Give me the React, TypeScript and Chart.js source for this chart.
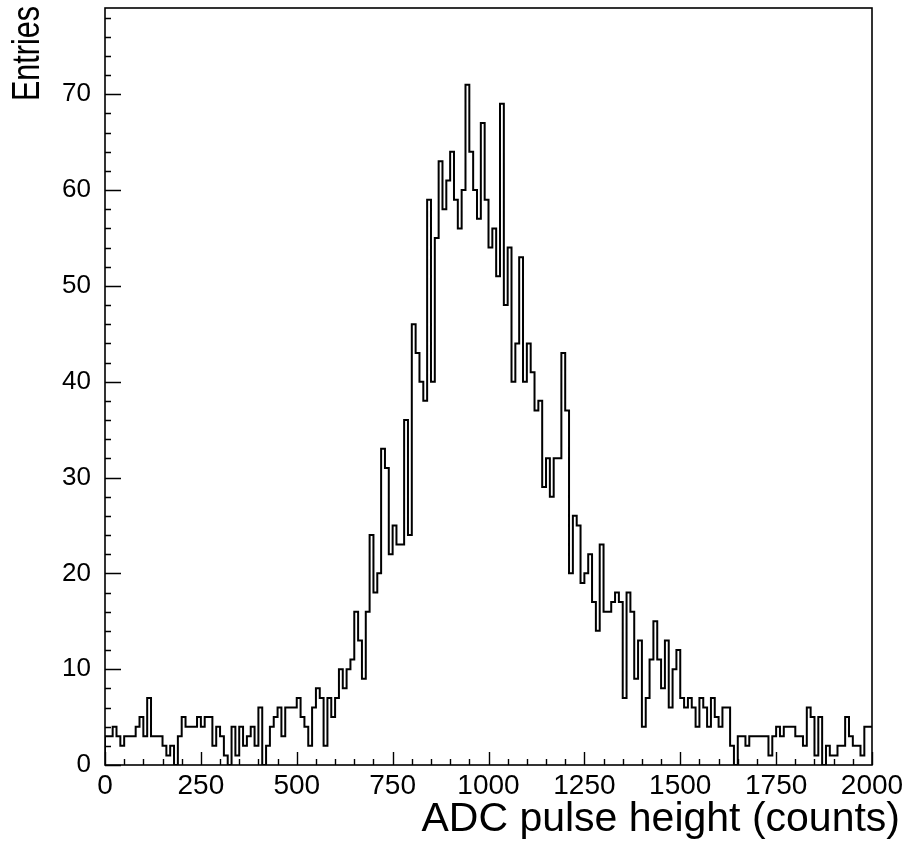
import React, { useEffect, useRef } from 'react';
import { Chart, registerables } from 'chart.js';

Chart.register(...registerables);

// ---- data ----
const X_MIN = 0;
const X_MAX = 2000;
const BIN_WIDTH = 10;
const Y_MIN = 0;
const Y_MAX = 79;
const X_TICKS = [0, 250, 500, 750, 1000, 1250, 1500, 1750, 2000];
const Y_TICKS = [0, 10, 20, 30, 40, 50, 60, 70];
const X_MINOR_STEP = 50;
const Y_MINOR_STEP = 2;
const X_TITLE = 'ADC pulse height (counts)';
const Y_TITLE = 'Entries';

// entries per 10-count bin, 0 .. 2000
const COUNTS_0_49 = [
  1, 3, 3, 4, 3, 2, 3, 3, 3, 4,
  5, 3, 7, 3, 3, 3, 2, 1, 2, 0,
  3, 5, 4, 4, 4, 5, 4, 5, 5, 2,
  4, 3, 1, 0, 4, 1, 4, 2, 3, 4,
  2, 6, 0, 2, 4, 5, 6, 3, 6, 6,
];
const COUNTS_50_99 = [
  6, 7, 5, 4, 2, 6, 8, 7, 2, 7,
  5, 7, 10, 8, 10, 11, 16, 13, 9, 16,
  24, 18, 20, 33, 31, 22, 25, 23, 23, 36,
  24, 46, 43, 40, 38, 59, 40, 55, 63, 58,
  61, 64, 59, 56, 60, 71, 64, 60, 57, 67,
];
const COUNTS_100_149 = [
  59, 54, 56, 51, 69, 48, 54, 40, 44, 53,
  40, 44, 41, 37, 38, 29, 32, 28, 32, 32,
  43, 37, 20, 26, 25, 19, 20, 22, 17, 14,
  23, 16, 16, 17, 18, 17, 7, 18, 16, 9,
  13, 4, 7, 11, 15, 11, 8, 13, 6, 10,
];
const COUNTS_150_199 = [
  12, 7, 6, 7, 6, 4, 7, 6, 4, 7,
  5, 4, 6, 6, 2, 0, 3, 3, 2, 3,
  3, 3, 3, 3, 1, 3, 4, 3, 4, 4,
  4, 3, 3, 2, 6, 5, 1, 5, 0, 2,
  1, 1, 2, 2, 5, 3, 2, 2, 1, 4,
];
const COUNTS = [...COUNTS_0_49, ...COUNTS_50_99, ...COUNTS_100_149, ...COUNTS_150_199];

const FONT_FAMILY = '"Liberation Sans", Arial, sans-serif';

export default function App() {
  const canvasRef = useRef<HTMLCanvasElement | null>(null);

  useEffect(() => {
    document.body.style.margin = '0';
    const canvas = canvasRef.current;
    if (!canvas) return;

    const points = COUNTS.map((c, i) => ({ x: X_MIN + i * BIN_WIDTH, y: c }));
    points.push({ x: X_MAX, y: COUNTS[COUNTS.length - 1] });

    const framePlugin = {
      id: 'paw-frame',
      afterDraw(chart: any) {
        const { ctx, chartArea: a } = chart;
        const xs = chart.scales.x;
        const ys = chart.scales.y;
        ctx.save();
        ctx.strokeStyle = '#000';
        ctx.lineWidth = 1.6;
        ctx.strokeRect(a.left, a.top, a.right - a.left, a.bottom - a.top);
        ctx.beginPath();
        for (let v = X_MIN; v <= X_MAX; v += X_MINOR_STEP) {
          const px = Math.round(xs.getPixelForValue(v)) + 0.5;
          const len = X_TICKS.includes(v) ? 13 : 6;
          ctx.moveTo(px, a.bottom);
          ctx.lineTo(px, a.bottom - len);
        }
        for (let v = Y_MIN; v <= Y_MAX; v += Y_MINOR_STEP) {
          const py = Math.round(ys.getPixelForValue(v)) + 0.5;
          const len = Y_TICKS.includes(v) ? 16 : 6;
          ctx.moveTo(a.left, py);
          ctx.lineTo(a.left + len, py);
        }
        ctx.lineWidth = 1.4;
        ctx.stroke();

        // axis titles
        ctx.fillStyle = '#000';
        ctx.font = `41px ${FONT_FAMILY}`;
        ctx.textBaseline = 'alphabetic';
        ctx.textAlign = 'right';
        ctx.fillText(X_TITLE, 900, 831, 480);

        ctx.save();
        ctx.translate(39, 6);
        ctx.rotate(-Math.PI / 2);
        ctx.font = `38px ${FONT_FAMILY}`;
        ctx.textAlign = 'right';
        ctx.fillText(Y_TITLE, 0, 0, 95);
        ctx.restore();
        ctx.restore();
      },
    };

    const fmt = (v: any) => String(v);

    const chart = new Chart(canvas, {
      type: 'line',
      data: {
        datasets: [
          {
            data: points,
            stepped: 'after',
            borderColor: '#000',
            borderWidth: 2,
            pointRadius: 0,
            fill: false,
          },
        ],
      },
      options: {
        animation: false,
        responsive: false,
        devicePixelRatio: 1,
        layout: { padding: { top: 8, right: 36, left: 0, bottom: 0 } },
        plugins: {
          legend: { display: false },
          tooltip: { enabled: false },
        },
        scales: {
          x: {
            type: 'linear',
            min: X_MIN,
            max: X_MAX,
            grid: { display: false, drawTicks: false },
            border: { display: false },
            ticks: {
              font: { family: FONT_FAMILY, size: 28 },
              color: '#000',
              padding: 4,
              maxRotation: 0,
              autoSkip: false,
              callback: fmt,
            },
            afterBuildTicks: (s: any) => {
              s.ticks = X_TICKS.map((v) => ({ value: v }));
            },
            afterFit: (s: any) => {
              s.height = 80;
              s.paddingLeft = 0;
              s.paddingRight = 0;
            },
          },
          y: {
            type: 'linear',
            min: Y_MIN,
            max: Y_MAX,
            grid: { display: false, drawTicks: false },
            border: { display: false },
            ticks: {
              font: { family: FONT_FAMILY, size: 26 },
              color: '#000',
              padding: 14,
              autoSkip: false,
              callback: fmt,
            },
            afterBuildTicks: (s: any) => {
              s.ticks = Y_TICKS.map((v) => ({ value: v }));
            },
            afterFit: (s: any) => {
              s.width = 105;
              s.paddingTop = 0;
              s.paddingBottom = 0;
            },
          },
        },
      },
      plugins: [framePlugin],
    });

    return () => chart.destroy();
  }, []);

  return (
    <div style={{ position: 'absolute', left: 0, top: 0, width: 908, height: 845, background: '#fff' }}>
      <canvas ref={canvasRef} width={908} height={845} style={{ display: 'block' }} />
    </div>
  );
}
